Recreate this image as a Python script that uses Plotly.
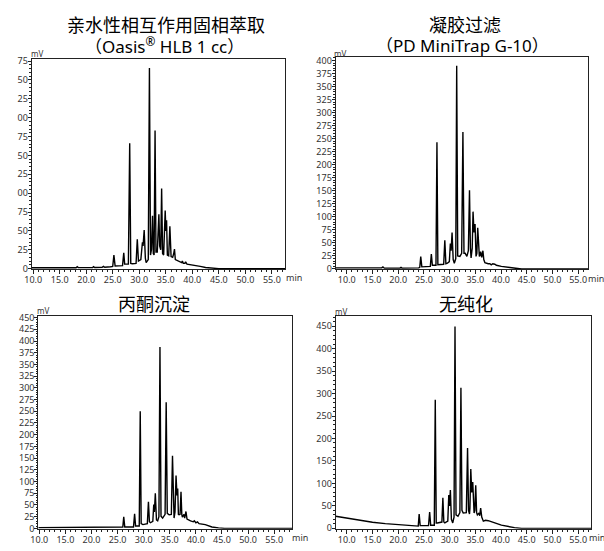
import plotly.graph_objects as go

W, H = 604, 551

# ---------------- data ----------------
title_line1 = ["亲水性相互作用固相萃取", "凝胶过滤", "丙酮沉淀", "无纯化"]
title_line2 = ["（Oasis<sup>®</sup> HLB 1 cc）", "（PD MiniTrap G-10）"]

x_tickvals = [10, 15, 20, 25, 30, 35, 40, 45, 50, 55]

tl_time = [9.72, 18.1, 18.3, 18.5, 21.2, 21.4, 21.6, 23.0, 23.25, 23.5, 24.6,
           25.0, 25.22, 25.45,
           26.85, 27.08, 27.25,
           27.95, 28.2, 28.4,
           28.7, 29.4, 29.63, 29.85,
           30.3, 30.6, 30.72, 30.93, 31.15, 31.3,
           31.7, 31.92, 32.12,
           32.3, 32.5, 32.65,
           32.8, 32.98, 33.15,
           33.4, 33.7, 33.85,
           34.05, 34.22, 34.4,
           34.6, 34.89, 35.02, 35.15, 35.3,
           35.55, 35.77, 36.0,
           36.3, 36.5, 36.64, 36.8,
           37.2, 37.6, 38.0, 38.13, 38.3, 38.6, 38.74, 39.0,
           40.0, 41.5, 42.5, 44.0, 45.0, 57.53]
tl_mv = [1.2, 1.2, 2.5, 1.3, 1.3, 2.5, 1.5, 1.6, 3.0, 1.8, 2.5,
         3, 18, 3.5,
         4, 21, 6,
         6, 166, 7,
         6.5, 7, 39, 10,
         12, 35, 30, 51, 14, 8,
         12, 266, 18,
         25, 70, 20,
         18, 183, 22,
         22, 72, 30,
         25, 106, 20,
         18, 77, 50, 64, 18,
         17, 56, 16,
         15, 20, 26, 12,
         11, 10, 8, 10, 7, 7, 9, 6,
         5, 3, 1.5, 0.5, 0, 0]

tr_time = [7.83, 16.8, 17.04, 17.3, 20.35, 20.55, 20.75, 22.0, 22.17, 22.35, 24.0,
           24.2, 24.39, 24.6,
           26.25, 26.45, 26.65,
           27.35, 27.54, 27.72,
           28.2, 28.85, 29.07, 29.28,
           29.58, 29.95, 30.15, 30.3, 30.48, 30.7,
           30.92, 31.2, 31.38, 31.58,
           32.0, 32.35, 32.59, 32.8,
           33.03, 33.36, 33.65, 33.87, 34.05,
           34.18, 34.4, 34.56, 34.75, 34.95, 35.14,
           35.3, 35.47, 35.65, 35.79,
           35.9, 36.04, 36.25, 36.48, 36.65, 36.87,
           37.5, 37.83, 38.1, 38.4, 38.79, 39.1,
           40.07, 41.3, 42.62, 44.0, 56.96]
tr_mv = [2, 2, 4, 1.5, 1.5, 3, 1.5, 1.5, 2.5, 1.5, 2,
         3, 23.7, 4,
         5, 28.6, 7,
         7, 243, 8,
         8, 9, 55, 10,
         11, 14, 49, 35, 70, 18,
         11, 20, 390, 25,
         24, 30, 263, 30,
         30, 24, 35, 151, 40,
         21, 40, 110, 70, 86, 24,
         30, 79, 35, 24,
         26, 33, 22, 35, 18, 12,
         10, 10, 8, 10, 9, 7,
         5, 3, 1, 0, 0]

bl_time = [9.81, 18.9, 19.13, 19.35, 22.1, 22.29, 22.5, 24.0, 24.8, 25.9,
           26.0, 26.18, 26.38,
           28.05, 28.26, 28.45,
           29.15, 29.34, 29.52,
           29.85, 30.7, 30.91, 31.1,
           31.29, 31.75, 31.93, 32.05, 32.23, 32.45,
           32.68, 32.92, 33.12, 33.32,
           33.63, 34.1, 34.31, 34.52,
           34.88, 35.3, 35.52, 35.7,
           35.82, 36.0, 36.2, 36.38, 36.52, 36.65,
           36.77, 36.97, 37.15, 37.3,
           37.41, 37.72, 37.85, 38.1, 38.3,
           38.98, 39.5, 39.7, 40.0, 40.3, 40.6,
           41.8, 43.08, 44.33, 45.5, 58.45]
bl_mv = [1.5, 1.5, 3, 1.5, 1.5, 2.5, 1.5, 2, 2, 2,
         3, 24.5, 3,
         3, 31, 5,
         5, 250, 10,
         8, 10, 57, 14,
         12, 15, 51, 35, 75, 18,
         16, 25, 387, 26,
         22, 30, 269, 32,
         29, 30, 155, 30,
         22, 35, 113, 70, 85, 30,
         29, 30, 78, 30,
         24, 30, 22, 36, 20,
         16, 14, 16, 12, 14, 10,
         8, 3, 1, 0, 0]

br_time = [7.83, 10.0, 12.5, 15.0, 17.5, 20.0, 22.5, 23.8,
           23.9, 24.08, 24.28,
           25.9, 26.12, 26.32,
           27.02, 27.21, 27.4,
           27.6, 28.5, 28.69, 28.88,
           29.07, 29.65, 29.84, 29.98, 30.15, 30.35,
           30.61, 30.86, 31.05, 31.25,
           31.63, 32.0, 32.2, 32.4,
           32.65, 33.25, 33.49, 33.68,
           33.87, 33.95, 34.12, 34.3, 34.5, 34.62,
           34.76, 34.9, 35.08, 35.25,
           35.4, 35.72, 35.85, 36.04, 36.25,
           36.56, 37.0, 37.52, 38.15, 38.79,
           40.07, 41.35, 42.62, 44.0, 57.53]
br_mv = [27, 22.5, 17, 13.5, 10.5, 8, 6, 5,
         5, 32, 6,
         6, 36, 7,
         7, 286, 12,
         12, 14, 68, 14,
         12, 16, 74, 50, 85, 20,
         12, 25, 449, 30,
         27, 35, 313, 40,
         34, 35, 179, 40,
         32, 45, 132, 80, 103, 40,
         34, 40, 96, 35,
         30, 34, 28, 45, 25,
         16, 18, 17, 15, 12,
         7, 4, 1.5, 0, 0]

tl_yticks = [0, 25, 50, 75, 100, 125, 150, 175, 200, 225, 250, 275]
tl_yticktext = ["0", "25", "50", "75", "00", "25", "50", "75", "00", "25", "50", "75"]
tr_yticks = [0, 25, 50, 75, 100, 125, 150, 175, 200, 225, 250, 275, 300, 325, 350, 375, 400]
bl_yticks = [0, 25, 50, 75, 100, 125, 150, 175, 200, 225, 250, 275, 300, 325, 350, 375, 400, 425, 450]
br_yticks = [0, 50, 100, 150, 200, 250, 300, 350, 400, 450]

# ---------------- layout helpers ----------------
def px_dom_x(a, b):
    return [a / W, b / W]

def px_dom_y(top, bottom):
    return [1 - bottom / H, 1 - top / H]

AX = "#222222"
TXT = "#333333"
LATIN = "Noto Sans, DejaVu Sans, sans-serif"
TICKFONT = dict(family=LATIN, size=9, color=TXT)

def xaxis(dom, rng, anchor):
    return dict(domain=dom, range=rng, anchor=anchor,
                tickmode="array", tickvals=x_tickvals,
                ticktext=[f"{v:.1f}" for v in x_tickvals],
                ticks="outside", ticklen=4, tickwidth=1, tickcolor=AX,
                ticklabelstandoff=-2,
                minor=dict(tickmode="linear", tick0=0, dtick=1, ticks="outside",
                           ticklen=2, tickwidth=1, tickcolor=AX),
                showline=True, linecolor=AX, linewidth=1, mirror=True,
                showgrid=False, zeroline=False, tickfont=TICKFONT)

def yaxis(dom, rng, anchor, tickvals, ticktext=None, minor_dtick=5):
    d = dict(domain=dom, range=rng, anchor=anchor,
             tickmode="array", tickvals=tickvals,
             ticks="outside", ticklen=3, tickwidth=1, tickcolor=AX,
             ticklabelstandoff=-2,
             minor=dict(tickmode="linear", tick0=0, dtick=minor_dtick, ticks="outside",
                        ticklen=1.5, tickwidth=1, tickcolor=AX),
             showline=True, linecolor=AX, linewidth=1, mirror=True,
             showgrid=False, zeroline=False, tickfont=TICKFONT)
    if ticktext is not None:
        d["ticktext"] = ticktext
    return d

fig = go.Figure()
line = dict(color="#000000", width=1.4)
fig.add_trace(go.Scatter(x=tl_time, y=tl_mv, mode="lines", line=line, xaxis="x", yaxis="y"))
fig.add_trace(go.Scatter(x=tr_time, y=tr_mv, mode="lines", line=line, xaxis="x2", yaxis="y2"))
fig.add_trace(go.Scatter(x=bl_time, y=bl_mv, mode="lines", line=line, xaxis="x3", yaxis="y3"))
fig.add_trace(go.Scatter(x=br_time, y=br_mv, mode="lines", line=line, xaxis="x4", yaxis="y4"))

layout = dict(
    width=W, height=H, margin=dict(l=0, r=0, t=0, b=0),
    paper_bgcolor="white", plot_bgcolor="white", showlegend=False,
    xaxis=xaxis(px_dom_x(24, 281), [9.72, 57.53], "y"),
    yaxis=yaxis(px_dom_y(55, 269.5), [-0.65, 277.9], "x", tl_yticks, tl_yticktext, 5),
    xaxis2=xaxis(px_dom_x(332, 588), [7.83, 56.96], "y2"),
    yaxis2=yaxis(px_dom_y(53.5, 269.8), [-0.9, 406], "x2", tr_yticks, None, 5),
    xaxis3=xaxis(px_dom_x(30.7, 288), [9.81, 58.45], "y3"),
    yaxis3=yaxis(px_dom_y(317.3, 534.5), [-1.0, 453.5], "x3", bl_yticks, None, 5),
    xaxis4=xaxis(px_dom_x(332, 591), [7.83, 57.53], "y4"),
    yaxis4=yaxis(px_dom_y(317.7, 534.5), [-1.1, 471.8], "x4", br_yticks, None, 10),
)

def ann(text, xpx, ypx, size, color="#000000", family="Noto Sans CJK SC, Noto Sans, sans-serif"):
    return dict(text=text, x=xpx / W, y=1 - ypx / H, xref="paper", yref="paper",
                xanchor="center", yanchor="middle", showarrow=False,
                font=dict(family=family, size=size, color=color))

TITLE_L2 = "Noto Sans, Noto Sans CJK SC, sans-serif"
annotations = [
    ann(title_line1[0], 160, 19.5, 18),
    ann(title_line2[0], 159, 41.5, 17, "#000000", TITLE_L2),
    ann(title_line1[1], 463.5, 19.5, 18),
    ann(title_line2[1], 461, 41.5, 17, "#000000", TITLE_L2),
    ann(title_line1[2], 148, 304.5, 18),
    ann(title_line1[3], 464.5, 304.5, 18),
    ann("mV", 29, 49.5, 8, TXT, LATIN),
    ann("mV", 336, 49.5, 8, TXT, LATIN),
    ann("mV", 35, 312, 8, TXT, LATIN),
    ann("mV", 337.5, 313, 8, TXT, LATIN),
    ann("min", 290, 278.5, 9, TXT, LATIN),
    ann("min", 596, 279, 9, TXT, LATIN),
    ann("min", 296, 543, 9, TXT, LATIN),
    ann("min", 597, 543, 9, TXT, LATIN),
]
layout["annotations"] = annotations
fig.update_layout(**layout)

fig.write_html("out.html", config={"displayModeBar": False},
               post_script="document.body.style.margin='0';document.body.style.padding='0';")
